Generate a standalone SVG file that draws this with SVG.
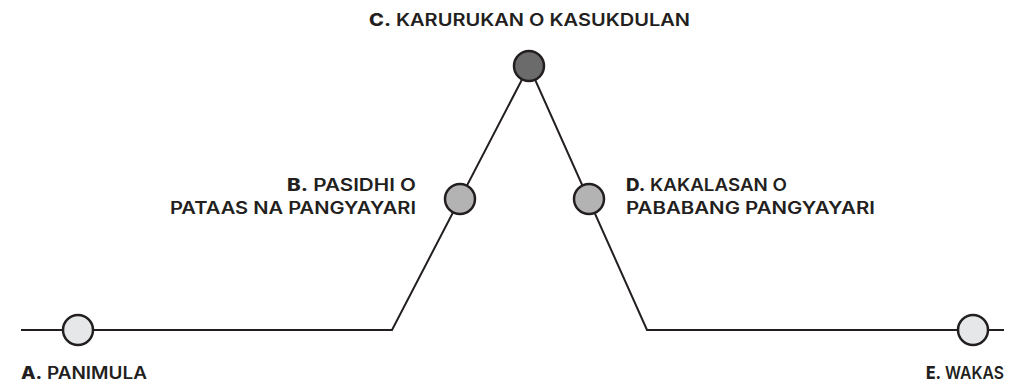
<svg xmlns="http://www.w3.org/2000/svg" width="1025" height="381" viewBox="0 0 1025 381">
  <style>
    .lbl { font-family: Inter, "Open Sans", "DejaVu Sans", sans-serif; font-size: 17px; font-weight: 600; fill: #231f20; }
    .lbl .k { font-weight: 800; }
    .node { stroke: #231f20; stroke-width: 2.5; }
    .light { fill: #e6e7e8; }
    .mid { fill: #b3b3b3; }
    .dark { fill: #6b6b6b; }
    .conn { fill: none; stroke: #231f20; stroke-width: 2; stroke-linejoin: miter; }
  </style>
  <rect width="1025" height="381" fill="#ffffff"/>
  <g id="connectors">
    <path class="conn" d="M21,330 H392 L529,66 L647,330 H1004"/>
  </g>
  <g id="node-a">
    <circle class="node light" cx="78" cy="330" r="15"/>
    <text class="lbl" x="21" y="379" textLength="126" lengthAdjust="spacingAndGlyphs"><tspan class="k">A.</tspan> PANIMULA</text>
  </g>
  <g id="node-b">
    <circle class="node mid" cx="460" cy="199" r="15"/>
    <text class="lbl" x="287" y="191" textLength="129" lengthAdjust="spacingAndGlyphs"><tspan class="k">B.</tspan> PASIDHI O</text>
    <text class="lbl" x="170" y="214" textLength="246" lengthAdjust="spacingAndGlyphs">PATAAS NA PANGYAYARI</text>
  </g>
  <g id="node-c">
    <circle class="node dark" cx="529" cy="66" r="15"/>
    <text class="lbl" x="369" y="26" textLength="321" lengthAdjust="spacingAndGlyphs"><tspan class="k">C.</tspan> KARURUKAN O KASUKDULAN</text>
  </g>
  <g id="node-d">
    <circle class="node mid" cx="589" cy="199" r="15"/>
    <text class="lbl" x="626" y="191" textLength="161" lengthAdjust="spacingAndGlyphs"><tspan class="k">D.</tspan> KAKALASAN O</text>
    <text class="lbl" x="626" y="214" textLength="249" lengthAdjust="spacingAndGlyphs">PABABANG PANGYAYARI</text>
  </g>
  <g id="node-e">
    <circle class="node light" cx="973" cy="330" r="15"/>
    <text class="lbl" x="926" y="379" textLength="78" lengthAdjust="spacingAndGlyphs"><tspan class="k">E.</tspan> WAKAS</text>
  </g>
</svg>
